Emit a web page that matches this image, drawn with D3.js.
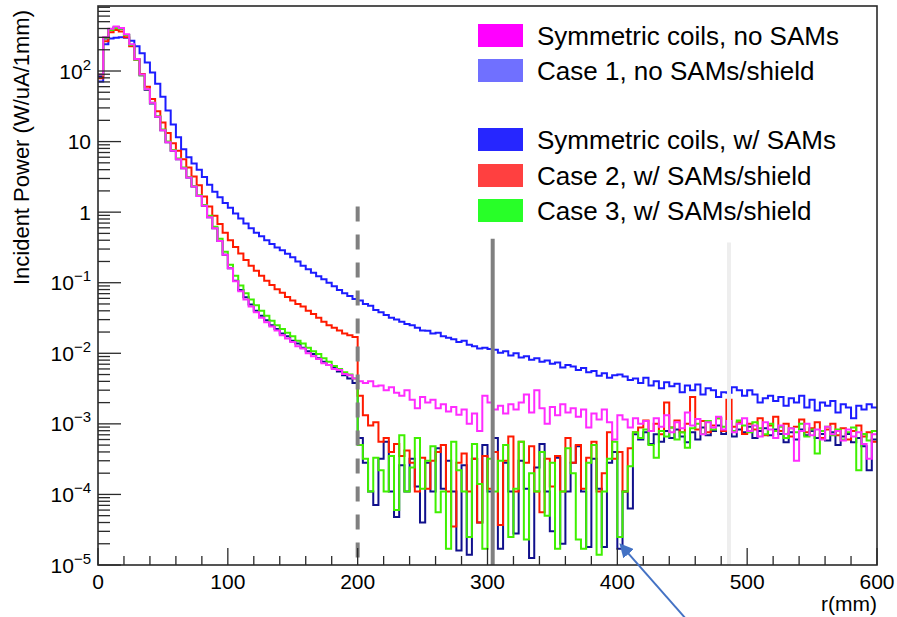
<!DOCTYPE html>
<html>
<head>
<meta charset="utf-8">
<script src="https://cdn.jsdelivr.net/npm/d3@7"></script>
<style>
  html, body { margin: 0; padding: 0; background: #fff; }
  svg { display: block; font-family: "Liberation Sans", Arial, Helvetica, sans-serif; }
</style>
</head>
<body>
<svg id="chart" width="897" height="617"></svg>
<script>
// Radial histogram bins: 4 mm wide, lower edges from 0 to 596 mm
const binWidth = 4;
const binEdges = d3.range(0, 600, binWidth);

// Incident power per bin (W/uA/1mm)
const powerCase1 = [
  71, 240, 288, 295, 302, 295, 269, 224, 178, 132,
  95, 66, 43, 27.5, 17.4, 11.5, 7.8, 6.0, 4.9, 4.0,
  3.16, 2.45, 1.95, 1.62, 1.35, 1.15, 0.955, 0.81, 0.69, 0.59,
  0.51, 0.457, 0.40, 0.355, 0.316, 0.288, 0.257, 0.229, 0.20, 0.174,
  0.155, 0.138, 0.123, 0.112, 0.100, 0.089, 0.079, 0.071, 0.065, 0.059,
  0.056, 0.050, 0.047, 0.041, 0.038, 0.035, 0.032, 0.030, 0.028, 0.026,
  0.025, 0.023, 0.021, 0.0209, 0.0191, 0.0195, 0.0174, 0.0166, 0.0158, 0.0145,
  0.0151, 0.0132, 0.0126, 0.0117, 0.0120, 0.0115, 0.0112, 0.0102, 0.0107, 9.3e-3,
  1.0e-2, 8.7e-3, 9.1e-3, 8.1e-3, 8.5e-3, 7.6e-3, 7.9e-3, 7.1e-3, 7.4e-3, 6.3e-3,
  6.8e-3, 6.5e-3, 5.8e-3, 6.2e-3, 5.4e-3, 5.6e-3, 4.8e-3, 5.2e-3, 4.5e-3, 4.9e-3,
  5.0e-3, 4.7e-3, 4.2e-3, 4.4e-3, 3.8e-3, 4.5e-3, 3.5e-3, 4.0e-3, 3.2e-3, 3.9e-3,
  3.4e-3, 3.7e-3, 2.8e-3, 3.5e-3, 3.0e-3, 3.6e-3, 2.6e-3, 3.2e-3, 3.0e-3, 2.4e-3,
  2.8e-3, 2.75e-3, 3.3e-3, 3.0e-3, 2.5e-3, 3.0e-3, 2.6e-3, 2.0e-3, 2.3e-3, 2.5e-3,
  2.1e-3, 2.4e-3, 1.8e-3, 2.3e-3, 2.0e-3, 2.5e-3, 1.7e-3, 2.2e-3, 1.55e-3, 2.0e-3,
  1.8e-3, 2.1e-3, 1.45e-3, 1.9e-3, 1.7e-3, 1.2e-3, 1.8e-3, 1.6e-3, 1.9e-3, 1.7e-3
];

const powerSymNoSAMs = [
  89, 302, 398, 427, 407, 331, 240, 148, 89, 55,
  35.5, 22.4, 14.5, 9.8, 7.4, 5.6, 4.2, 3.1, 2.3, 1.7,
  1.23, 0.85, 0.59, 0.39, 0.25, 0.16, 0.105, 0.076, 0.058, 0.046,
  0.038, 0.032, 0.0275, 0.024, 0.021, 0.018, 0.0162, 0.0145, 0.0126, 0.0117,
  0.0100, 9.1e-3, 8.3e-3, 7.2e-3, 6.8e-3, 6.0e-3, 5.8e-3, 5.1e-3, 4.9e-3, 4.4e-3,
  4.0e-3, 3.8e-3, 4.0e-3, 3.4e-3, 3.5e-3, 3.0e-3, 3.3e-3, 2.75e-3, 2.5e-3, 3.0e-3,
  2.2e-3, 1.66e-3, 2.4e-3, 2.0e-3, 2.2e-3, 1.66e-3, 1.9e-3, 1.5e-3, 1.74e-3, 1.35e-3,
  1.6e-3, 1.0e-3, 1.4e-3, 7.9e-4, 2.5e-3, 2.0e-3, 1.6e-3, 1.8e-3, 1.4e-3, 1.9e-3,
  1.6e-3, 2.0e-3, 2.6e-3, 1.45e-3, 3.0e-3, 1.66e-3, 1.0e-3, 1.74e-3, 1.32e-3, 1.9e-3,
  1.45e-3, 1.66e-3, 1.26e-3, 1.6e-3, 8.9e-4, 1.4e-3, 1.15e-3, 1.6e-3, 1.05e-3, 6.0e-4,
  1.32e-3, 1.15e-3, 8.9e-4, 1.2e-3, 1.0e-3, 1.1e-3, 7.9e-4, 1.2e-3, 9.1e-4, 1.32e-3,
  7.6e-4, 1.05e-3, 8.7e-4, 1.45e-3, 9.5e-4, 1.17e-3, 7.1e-4, 1.05e-3, 8.9e-4, 1.26e-3,
  8.3e-4, 1.1e-3, 7.6e-4, 1.0e-3, 1.2e-3, 7.9e-4, 9.5e-4, 6.6e-4, 1.05e-3, 8.3e-4,
  6.3e-4, 9.5e-4, 7.2e-4, 8.7e-4, 3.0e-4, 7.9e-4, 1.0e-3, 6.9e-4, 8.3e-4, 6.0e-4,
  9.1e-4, 7.1e-4, 7.9e-4, 5.8e-4, 8.3e-4, 6.6e-4, 7.6e-4, 5.2e-4, 3.2e-4, 7.1e-4
];

const powerSymSAMs = [
  85, 288, 389, 417, 398, 324, 234, 145, 87, 54,
  34.7, 22.4, 14.5, 9.8, 7.4, 5.6, 4.2, 3.1, 2.3, 1.7,
  1.23, 0.85, 0.59, 0.39, 0.25, 0.16, 0.107, 0.079, 0.062, 0.049,
  0.040, 0.034, 0.0295, 0.025, 0.022, 0.019, 0.0174, 0.0151, 0.0138, 0.012,
  0.0107, 9.8e-3, 8.5e-3, 7.6e-3, 6.8e-3, 6.3e-3, 5.5e-3, 4.9e-3, 4.4e-3, 3.8e-3,
  6.3e-4, 2.8e-4, 1.1e-4, 7.1e-5, 3.2e-4, 5.6e-4, 1.1e-4, 4.8e-5, 2.6e-4, 1.1e-4,
  3.2e-4, 1.3e-4, 4.0e-5, 2.8e-4, 1.1e-4, 4.5e-4, 1.2e-4, 3.0e-4, 1.1e-4, 1.6e-5,
  2.6e-4, 1.4e-5, 3.2e-4, 4.0e-5, 5.0e-4, 1.1e-4, 6.3e-4, 1.7e-5, 2.8e-4, 1.1e-4,
  2.8e-5, 3.0e-4, 1.2e-4, 1.26e-5, 2.4e-4, 5.2e-4, 1.1e-4, 3.0e-5, 3.3e-4, 2.0e-5,
  1.1e-4, 2.8e-4, 4.8e-4, 1.1e-4, 1.8e-5, 3.2e-4, 1.2e-4, 1.8e-5, 2.8e-4, 4.0e-4,
  1.7e-5, 1.1e-4, 6.3e-5, 7.1e-4, 6.0e-4, 7.6e-4, 5.2e-4, 7.1e-4, 5.6e-4, 7.9e-4,
  6.3e-4, 8.3e-4, 6.6e-4, 5.5e-4, 7.6e-4, 6.0e-4, 8.9e-4, 6.9e-4, 7.9e-4, 9.5e-4,
  7.2e-4, 8.7e-4, 6.6e-4, 8.3e-4, 7.6e-4, 9.1e-4, 6.3e-4, 7.9e-4, 8.7e-4, 6.9e-4,
  8.3e-4, 7.2e-4, 5.5e-4, 7.6e-4, 6.0e-4, 8.3e-4, 6.9e-4, 7.9e-4, 6.3e-4, 7.2e-4,
  5.8e-4, 7.6e-4, 5.0e-4, 6.6e-4, 7.2e-4, 5.5e-4, 6.3e-4, 4.8e-4, 2.2e-4, 6.0e-4
];

const powerCase2 = [
  79, 263, 355, 380, 363, 302, 224, 145, 91, 60,
  40, 27, 18.6, 13.2, 9.5, 7.4, 5.6, 4.3, 3.2, 2.4,
  1.66, 1.2, 0.89, 0.68, 0.51, 0.40, 0.32, 0.26, 0.21, 0.174,
  0.148, 0.126, 0.107, 0.093, 0.081, 0.072, 0.063, 0.056, 0.050, 0.046,
  0.040, 0.036, 0.032, 0.028, 0.025, 0.023, 0.021, 0.019, 0.018, 0.017,
  2.5e-3, 1.32e-3, 9.5e-4, 1.05e-3, 5.6e-4, 6.3e-4, 4.0e-4, 5.2e-4, 3.5e-4, 4.2e-4,
  2.8e-4, 1.1e-4, 3.3e-4, 1.2e-4, 3.0e-4, 4.0e-4, 5.0e-4, 1.1e-4, 3.5e-5, 2.8e-4,
  3.8e-4, 1.1e-4, 3.2e-4, 4.0e-5, 3.5e-4, 1.2e-4, 4.0e-4, 3.7e-5, 3.0e-4, 6.6e-4,
  1.1e-4, 5.6e-4, 2.8e-4, 4.8e-4, 1.1e-4, 5.6e-5, 3.2e-4, 1.3e-4, 3.5e-4, 1.1e-4,
  6.3e-4, 2.8e-4, 5.0e-4, 1.2e-4, 3.3e-4, 5.6e-4, 1.1e-4, 2.0e-4, 7.6e-4, 3.2e-4,
  4.0e-4, 1.1e-4, 4.5e-4, 7.6e-4, 8.9e-4, 1.12e-3, 7.9e-4, 1.0e-3, 7.1e-4, 2.0e-3,
  8.9e-4, 1.12e-3, 7.6e-4, 1.0e-3, 2.4e-3, 8.3e-4, 1.1e-3, 7.6e-4, 9.5e-4, 1.2e-3,
  7.9e-4, 2.2e-3, 9.1e-4, 1.05e-3, 7.2e-4, 1.0e-3, 8.3e-4, 1.2e-3, 6.9e-4, 9.5e-4,
  1.26e-3, 7.9e-4, 1.0e-3, 6.6e-4, 9.1e-4, 1.15e-3, 7.6e-4, 8.7e-4, 1.05e-3, 6.3e-4,
  8.3e-4, 1.0e-3, 6.9e-4, 8.7e-4, 6.0e-4, 7.9e-4, 9.5e-4, 6.6e-4, 7.6e-4, 5.6e-4
];

const powerCase3 = [
  89, 295, 380, 407, 398, 324, 234, 145, 87, 55,
  35.5, 22.9, 14.8, 10, 7.6, 5.75, 4.3, 3.16, 2.34, 1.74,
  1.26, 0.89, 0.62, 0.42, 0.275, 0.18, 0.126, 0.091, 0.071, 0.058,
  0.048, 0.040, 0.034, 0.029, 0.025, 0.022, 0.0195, 0.0174, 0.0151, 0.0138,
  0.012, 0.0107, 9.8e-3, 8.5e-3, 7.6e-3, 6.6e-3, 6.0e-3, 5.4e-3, 5.0e-3, 4.4e-3,
  5.0e-4, 3.2e-4, 1.1e-4, 3.3e-4, 2.2e-4, 1.1e-4, 3.5e-4, 6.0e-5, 6.9e-4, 1.1e-4,
  2.4e-4, 6.3e-4, 1.2e-4, 3.0e-4, 4.8e-4, 5.6e-5, 1.1e-4, 1.7e-5, 5.6e-4, 2.2e-4,
  1.1e-4, 2.5e-5, 5.2e-4, 1.4e-4, 1.7e-5, 3.2e-4, 1.1e-4, 3.0e-4, 5.0e-4, 2.5e-5,
  1.2e-4, 5.6e-4, 2.3e-5, 2.0e-4, 1.1e-4, 4.0e-4, 5.0e-5, 2.8e-4, 1.7e-5, 1.1e-4,
  4.5e-4, 2.0e-4, 2.3e-5, 1.7e-5, 2.8e-4, 5.0e-4, 1.4e-5, 1.1e-4, 3.2e-4, 5.6e-4,
  2.5e-5, 1.1e-4, 2.5e-4, 7.6e-4, 6.3e-4, 8.3e-4, 5.0e-4, 3.3e-4, 7.9e-4, 6.6e-4,
  8.9e-4, 6.0e-4, 7.6e-4, 4.6e-4, 8.7e-4, 1.0e-3, 7.2e-4, 1.1e-3, 8.3e-4, 1.2e-3,
  9.1e-4, 1.05e-3, 7.9e-4, 1.12e-3, 9.5e-4, 7.6e-4, 1.05e-3, 8.7e-4, 7.1e-4, 1.0e-3,
  7.9e-4, 9.1e-4, 6.3e-4, 8.7e-4, 7.6e-4, 1.0e-3, 6.6e-4, 8.3e-4, 3.8e-4, 7.9e-4,
  9.1e-4, 6.9e-4, 8.3e-4, 6.0e-4, 7.6e-4, 8.9e-4, 2.2e-4, 7.2e-4, 5.8e-4, 7.9e-4
];

// Axis ticks
const xTickValues = [0, 100, 200, 300, 400, 500, 600];
const yTickExponents = [-5, -4, -3, -2, -1, 0, 1, 2];

// Radii of the reference lines (mm)
const markerRadii = [200, 304, 486];

// Legend entries (a blank entry leaves a gap)
const legendLabels = [
  "Symmetric coils, no SAMs",
  "Case 1, no SAMs/shield",
  "",
  "Symmetric coils, w/ SAMs",
  "Case 2, w/ SAMs/shield",
  "Case 3, w/ SAMs/shield"
];
const legendColors = ["#ff00ff", "#7070ff", null, "#2626ff", "#ff4040", "#28ff28"];

// ---------------------------------------------------------------------------
const svg = d3.select("#chart");
const plot = { left: 98, right: 877, top: 6, bottom: 565 };

const x = d3.scaleLinear().domain([0, 600]).range([plot.left, plot.right]);
const y = d3.scaleLog().domain([1e-5, 834]).range([plot.bottom, plot.top]);
const yc = y.copy().clamp(true);

svg.append("rect").attr("width", 897).attr("height", 617).attr("fill", "#fff");

svg.append("defs").append("clipPath").attr("id", "plotClip")
  .append("rect")
  .attr("x", plot.left).attr("y", plot.top)
  .attr("width", plot.right - plot.left).attr("height", plot.bottom - plot.top);

// Histogram curves, drawn as steps
const series = [
  { values: powerCase1,     color: "#1c1cff" },
  { values: powerSymSAMs,   color: "#10108c" },
  { values: powerCase2,     color: "#ff1a00" },
  { values: powerCase3,     color: "#3ff000" },
  { values: powerSymNoSAMs, color: "#ff2cff" }
];

const stepLine = d3.line()
  .x(d => x(d[0]))
  .y(d => yc(d[1]))
  .curve(d3.curveStepAfter);

const curves = svg.append("g").attr("clip-path", "url(#plotClip)");
series.forEach(s => {
  const pts = s.values.map((v, i) => [binEdges[i], v]);
  pts.push([binEdges[binEdges.length - 1] + binWidth, s.values[s.values.length - 1]]);
  curves.append("path")
    .attr("d", stepLine(pts))
    .attr("fill", "none")
    .attr("stroke", s.color)
    .attr("stroke-width", 2)
    .attr("stroke-linejoin", "miter");
});

// Reference lines
const markerStyles = [
  { top: 1.2,  color: "#808080", width: 4, dash: "15,13" },
  { top: 0.42, color: "#808080", width: 4, dash: null },
  { top: 0.37, color: "#eeeeee", width: 4, dash: null }
];
markerRadii.forEach((r, i) => {
  const st = markerStyles[i];
  svg.append("line")
    .attr("x1", x(r)).attr("x2", x(r))
    .attr("y1", y(st.top)).attr("y2", plot.bottom)
    .attr("stroke", st.color)
    .attr("stroke-width", st.width)
    .attr("stroke-dasharray", st.dash);
});

// Frame
const axisColor = "#2a2a2a";
svg.append("rect")
  .attr("x", plot.left).attr("y", plot.top)
  .attr("width", plot.right - plot.left).attr("height", plot.bottom - plot.top)
  .attr("fill", "none").attr("stroke", axisColor).attr("stroke-width", 1.6);

// X ticks (inside the frame)
const xMinor = d3.range(0, 601, 20).filter(v => v % 100 !== 0);
const ticks = svg.append("g").attr("stroke", axisColor).attr("stroke-width", 1.3);
xTickValues.forEach(v => {
  ticks.append("line").attr("x1", x(v)).attr("x2", x(v))
    .attr("y1", plot.bottom).attr("y2", plot.bottom - 17);
});
xMinor.forEach(v => {
  ticks.append("line").attr("x1", x(v)).attr("x2", x(v))
    .attr("y1", plot.bottom).attr("y2", plot.bottom - 9);
});

// Y ticks (inside the frame)
const yMax = y.domain()[1];
yTickExponents.forEach(e => {
  const v = Math.pow(10, e);
  ticks.append("line").attr("x1", plot.left).attr("x2", plot.left + 23)
    .attr("y1", y(v)).attr("y2", y(v));
  for (let k = 2; k <= 9; k++) {
    const mv = k * v;
    if (mv > yMax) break;
    ticks.append("line").attr("x1", plot.left).attr("x2", plot.left + 12)
      .attr("y1", y(mv)).attr("y2", y(mv));
  }
});

// X tick labels
const labels = svg.append("g").attr("fill", "#000");
xTickValues.forEach(v => {
  labels.append("text")
    .attr("x", x(v)).attr("y", 589)
    .attr("text-anchor", "middle")
    .attr("font-size", 21)
    .text(v);
});

// Y tick labels: 1, 10, otherwise 10 with a superscript exponent
yTickExponents.forEach(e => {
  const t = labels.append("text")
    .attr("x", 91).attr("y", y(Math.pow(10, e)) + 7.5)
    .attr("text-anchor", "end")
    .attr("font-size", 21);
  if (e === 0) t.text("1");
  else if (e === 1) t.text("10");
  else {
    t.append("tspan").text("10");
    t.append("tspan")
      .attr("font-size", 15)
      .attr("dy", -9)
      .text(e < 0 ? "\u2212" + Math.abs(e) : String(e));
  }
});

// Axis titles
labels.append("text")
  .attr("transform", "translate(29,10) rotate(-90)")
  .attr("text-anchor", "end")
  .attr("font-size", 22)
  .text("Incident Power (W/uA/1mm)");

labels.append("text")
  .attr("x", plot.right).attr("y", 611)
  .attr("text-anchor", "end")
  .attr("font-size", 21)
  .text("r(mm)");

// Legend
const legend = svg.append("g");
legend.append("rect")
  .attr("x", 470).attr("y", 12).attr("width", 406).attr("height", 216)
  .attr("fill", "#fff");
const rowY = [35.5, 70.5, 105, 139.5, 175.5, 210.5];
legendLabels.forEach((label, i) => {
  if (!label) return;
  legend.append("rect")
    .attr("x", 478).attr("y", rowY[i] - 11.5)
    .attr("width", 45).attr("height", 23)
    .attr("fill", legendColors[i]);
  legend.append("text")
    .attr("x", 537).attr("y", rowY[i] + 9.5)
    .attr("font-size", 26)
    .attr("fill", "#000")
    .text(label);
});

// Annotation arrow
const arrowFrom = [452, 1.8e-6];
const arrowTo = [403, 1.9e-5];
svg.select("defs").append("marker")
  .attr("id", "arrowHead")
  .attr("viewBox", "0 0 10 10")
  .attr("refX", 8).attr("refY", 5)
  .attr("markerWidth", 7).attr("markerHeight", 7)
  .attr("markerUnits", "strokeWidth")
  .attr("orient", "auto")
  .append("path").attr("d", "M0,0 L10,5 L0,10 z").attr("fill", "#4472c4");
svg.append("line")
  .attr("x1", x(arrowFrom[0])).attr("y1", y(arrowFrom[1]))
  .attr("x2", x(arrowTo[0])).attr("y2", y(arrowTo[1]))
  .attr("stroke", "#4472c4").attr("stroke-width", 2)
  .attr("marker-end", "url(#arrowHead)");
</script>
</body>
</html>
